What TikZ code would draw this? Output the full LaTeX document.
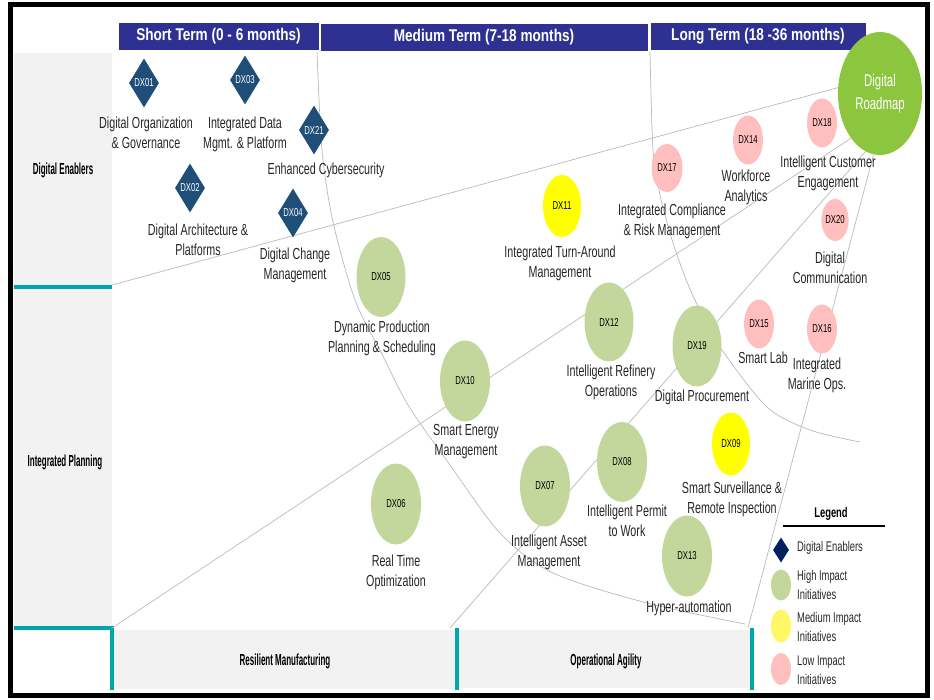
\documentclass[tikz,border=0pt]{standalone}
\usepackage{fontspec}
\setmainfont{Liberation Sans}[FakeStretch=0.67]
\newfontfamily\headfont{Liberation Sans}[FakeStretch=0.8]
\newfontfamily\bandfont{Liberation Sans}[FakeStretch=0.5]
\usepackage{tikz}
\usetikzlibrary{shapes.geometric}
\definecolor{headblue}{HTML}{2E3192}
\definecolor{bandteal}{HTML}{00A5AD}
\definecolor{sidegray}{HTML}{F2F2F2}
\definecolor{dxblue}{HTML}{1F4E79}
\definecolor{navy}{HTML}{002060}
\definecolor{highgreen}{HTML}{C3D69B}
\definecolor{medyellow}{HTML}{FFFF00}
\definecolor{lowpink}{HTML}{FFBFBF}
\definecolor{mapgreen}{HTML}{8CC63F}

\begin{document}
\begin{tikzpicture}[x=1pt,y=-1pt,
	guide/.style={gray!55,line width=0.7pt},
	enabler/.style={diamond,fill=dxblue,text=white,minimum width=30,minimum height=49},
	highimp/.style={ellipse,fill=highgreen,minimum width=50,minimum height=81},
	medimp/.style={ellipse,fill=medyellow,minimum width=38,minimum height=62},
	lowimp/.style={ellipse,fill=lowpink,minimum width=30,minimum height=49}]
	\useasboundingbox (0,0) rectangle (934,700);
	\fill[sidegray] (14,53) rectangle (112,626);
	\fill[sidegray] (112,630) rectangle (455,689);
	\fill[sidegray] (458,630) rectangle (752,688);
	\begin{scope}[bandteal,line width=3.5]
		\draw (14,287) -- (112,287);
		\draw (14,628) -- (112,628) -- (112,690);
		\draw (457,628) -- (457,690);
		\draw (752,628) -- (752,690);
	\end{scope}
	\begin{scope}[every node/.style={fill=headblue,draw=white,text=white,inner sep=0,minimum height=28,font=\headfont\bfseries\fontsize{17}{20}\selectfont}]
		\node[minimum width=201] (short) at (218.5,36) {Short Term (0 - 6 months)};
		\node[minimum width=328] (medium) at (484,37.5) {Medium Term (7-18 months)};
		\node[minimum width=216] (long) at (758,36) {Long Term (18 -36 months)};
	\end{scope}
	\node[ellipse,fill=mapgreen,text=white,align=center,inner sep=0,minimum width=84,minimum height=123,font=\fontsize{17}{23}\selectfont] (roadmap) at (880,93.5) {Digital\\Roadmap};
	\coordinate (e1) at (112,285);
	\coordinate (e2) at (112,628);
	\coordinate (e3) at (450,628);
	\coordinate (e4) at (748,628);
	\draw[guide] (roadmap.172) -- (e1);
	\draw[guide] (roadmap.237) -- (e2);
	\draw[guide] (roadmap.256) -- (e3);
	\draw[guide] (roadmap.264) -- (e4);
	\draw[guide] plot[smooth] coordinates {(317,52) (322,150) (333,222) (355,300) (380,350) (408,405) (450,465) (500,533) (553,573) (647,603) (745,624)};
	\draw[guide] plot[smooth] coordinates {(650,52) (653,150) (660,195) (672,240) (687,282) (700,310) (722,350) (767,407) (810,430) (860,442)};
	\begin{scope}[every node/.style={inner sep=0,font=\fontsize{11.5}{12}\selectfont}]
		\node[enabler] (dx01) at (144,83) {DX01};
		\node[enabler] (dx03) at (245,80) {DX03};
		\node[enabler] (dx21) at (314,130) {DX21};
		\node[enabler] (dx02) at (190,188) {DX02};
		\node[enabler] (dx04) at (293,213) {DX04};
		\node[highimp,minimum width=49,minimum height=80] (dx05) at (381,277) {DX05};
		\node[medimp] (dx11) at (562,206) {DX11};
		\node[highimp,minimum width=49,minimum height=79] (dx12) at (609,322) {DX12};
		\node[highimp] (dx10) at (465,381) {DX10};
		\node[lowimp,minimum width=31,minimum height=48] (dx17) at (667,168) {DX17};
		\node[lowimp] (dx14) at (748,140) {DX14};
		\node[lowimp] (dx18) at (822,123) {DX18};
		\node[lowimp,minimum width=26,minimum height=42] (dx20) at (835,220) {DX20};
		\node[highimp,minimum width=49] (dx19) at (697,346) {DX19};
		\node[lowimp] (dx15) at (759,324) {DX15};
		\node[lowimp] (dx16) at (822,329) {DX16};
		\node[medimp,minimum height=63] (dx09) at (731,444) {DX09};
		\node[highimp,minimum height=80] (dx08) at (622,462) {DX08};
		\node[highimp] (dx07) at (545,486) {DX07};
		\node[highimp] (dx06) at (396,504) {DX06};
		\node[highimp] (dx13) at (687,556) {DX13};
	\end{scope}
	\begin{scope}[every node/.style={align=center,inner sep=0,text=black!85,font=\fontsize{16}{20}\selectfont}]
		\node (dx01l) at (146,133) {Digital Organization\\\& Governance};
		\node (dx03l) at (245,134) {Integrated Data\\Mgmt. \& Platform};
		\node (dx21l) at (326,170) {Enhanced Cybersecurity};
		\node (dx02l) at (198,240) {Digital Architecture \&\\Platforms};
		\node (dx04l) at (295,265) {Digital Change\\Management};
		\node (dx05l) at (382,338) {Dynamic Production\\Planning \& Scheduling};
		\node (dx11l) at (560,263) {Integrated Turn-Around\\Management};
		\node (dx12l) at (611,382) {Intelligent Refinery\\Operations};
		\node (dx10l) at (466,442) {Smart Energy\\Management};
		\node (dx17l) at (672,221) {Integrated Compliance\\\& Risk Management};
		\node (dx14l) at (746,187) {Workforce\\Analytics};
		\node (dx18l) at (828,173) {Intelligent Customer\\Engagement};
		\node (dx20l) at (830,268) {Digital\\Communication};
		\node (dx19l) at (702,397) {Digital Procurement};
		\node (dx15l) at (763,358) {Smart Lab};
		\node (dx16l) at (817,375) {Integrated\\Marine Ops.};
		\node (dx09l) at (732,499) {Smart Surveillance \&\\Remote Inspection};
		\node (dx08l) at (627,521) {Intelligent Permit\\to Work};
		\node (dx07l) at (549,552) {Intelligent Asset\\Management};
		\node (dx06l) at (396,572) {Real Time\\Optimization};
		\node (dx13l) at (689,608) {Hyper-automation};
	\end{scope}
	\begin{scope}[every node/.style={text=black,font=\bandfont\bfseries\fontsize{16}{18}\selectfont}]
		\node (enablers) at (63,170) {Digital Enablers};
		\node (planning) at (65,462) {Integrated Planning};
		\node (resilient) at (285,661) {Resilient Manufacturing};
		\node (agility) at (606,661) {Operational Agility};
	\end{scope}
	% legend
	\node[font=\bfseries\fontsize{14}{16}\selectfont] (legend) at (831,514) {Legend};
	\draw[line width=1.5] (783,526) -- (885,526);
	\begin{scope}[every node/.style={inner sep=0}]
		\node[diamond,fill=navy,minimum width=16,minimum height=25] (keyde) at (781,550) {};
		\node[ellipse,fill=highgreen,minimum width=20,minimum height=31] (keyhi) at (781,585) {};
		\node[ellipse,fill=yellow!60,minimum width=20,minimum height=33] (keymed) at (781,626) {};
		\node[ellipse,fill=lowpink,minimum width=20,minimum height=32] (keylow) at (781,669) {};
	\end{scope}
	\begin{scope}[every node/.style={anchor=west,align=left,inner sep=0,text=black!85,font=\fontsize{14}{19}\selectfont}]
		\node (keydet) at (797,548) {Digital Enablers};
		\node (keyhit) at (797,585) {High Impact\\Initiatives};
		\node (keymedt) at (797,627) {Medium Impact\\Initiatives};
		\node (keylowt) at (797,670) {Low Impact\\Initiatives};
	\end{scope}
	\draw[line width=5] (10.5,4.5) rectangle (927.5,695.5);
\end{tikzpicture}
\end{document}
